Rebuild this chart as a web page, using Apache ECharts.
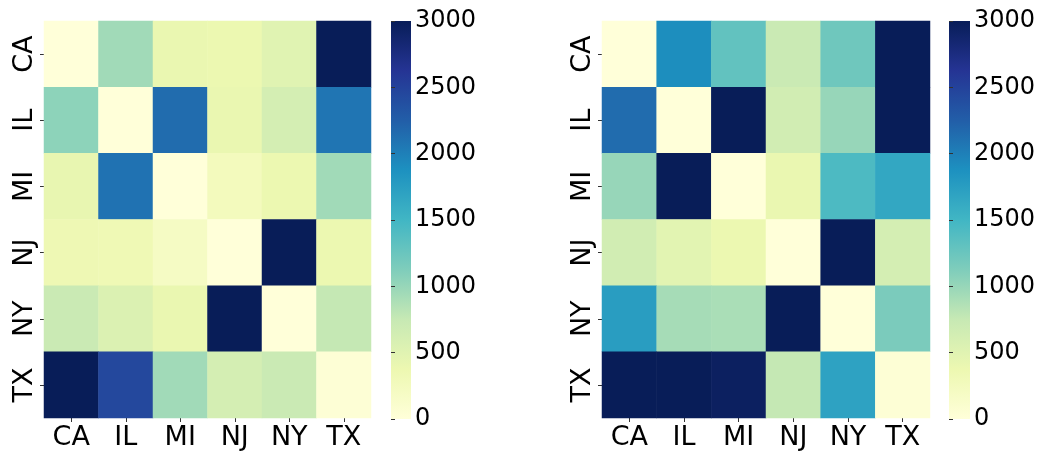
<!DOCTYPE html>
<html>
<head>
<meta charset="utf-8">
<script src="https://cdn.jsdelivr.net/npm/echarts@6/dist/echarts.min.js"></script>
<style>
  html, body { margin: 0; padding: 0; background: #fff; }
  #main { width: 1042px; height: 451px; }
</style>
</head>
<body>
<div id="main"></div>
<script>
// states on both axes
var states = ['CA', 'IL', 'MI', 'NJ', 'NY', 'TX'];
var cbarTicks = [0, 500, 1000, 1500, 2000, 2500, 3000];

// left matrix, rows = y labels (top to bottom), cols = x labels
var leftRows = [
  [0, 950, 400, 380, 500, 3000],
  [1050, 0, 2150, 400, 620, 2080],
  [420, 2100, 0, 260, 380, 950],
  [350, 340, 200, 0, 3000, 380],
  [720, 550, 400, 3000, 0, 760],
  [3000, 2450, 950, 620, 720, 40]
];

// right matrix
var rightRows = [
  [0, 1900, 1300, 720, 1220, 3000],
  [2150, 0, 3000, 650, 1000, 3000],
  [1000, 3000, 0, 400, 1430, 1650],
  [650, 480, 380, 0, 3000, 620],
  [1750, 920, 900, 3000, 0, 1150],
  [3000, 3000, 2950, 760, 1700, 40]
];

// YlGnBu
var ylgnbu = ['#ffffd9', '#edf8b1', '#c7e9b4', '#7fcdbb', '#41b6c4', '#1d91c0', '#225ea8', '#253494', '#081d58'];

function toCells(rows) {
  var out = [];
  for (var r = 0; r < rows.length; r++) {
    for (var c = 0; c < rows[r].length; c++) {
      out.push([c, r, rows[r][c]]);
    }
  }
  return out;
}

var chart = echarts.init(document.getElementById('main'));
var font = 'DejaVu Sans';

var gradStops = [];
for (var i = 0; i < ylgnbu.length; i++) {
  gradStops.push({ offset: 1 - i / (ylgnbu.length - 1), color: ylgnbu[i] });
}

function catX(gi) {
  return {
    type: 'category', gridIndex: gi, data: states,
    axisLine: { show: false },
    axisTick: { show: true, alignWithLabel: true, length: 4, lineStyle: { color: '#333', width: 1 } },
    axisLabel: { fontFamily: font, fontSize: 27, color: '#000', margin: 6 },
    splitLine: { show: false }
  };
}
function catY(gi) {
  return {
    type: 'category', gridIndex: gi, data: states, inverse: true,
    axisLine: { show: false },
    axisTick: { show: true, alignWithLabel: true, length: 4, lineStyle: { color: '#333', width: 1 } },
    axisLabel: { fontFamily: font, fontSize: 27, color: '#000', rotate: 90, margin: 6, align: 'center', verticalAlign: 'bottom' },
    splitLine: { show: false }
  };
}
function cbX(gi) {
  return { type: 'value', gridIndex: gi, show: false, min: 0, max: 1 };
}
function cbY(gi) {
  return {
    type: 'value', gridIndex: gi, position: 'right', min: cbarTicks[0], max: cbarTicks[cbarTicks.length - 1],
    interval: cbarTicks[1] - cbarTicks[0],
    axisLine: { show: false },
    axisTick: { show: true, length: 4, lineStyle: { color: '#333', width: 1 } },
    axisLabel: { fontFamily: font, fontSize: 24, color: '#000', margin: 4, formatter: function (v) { return String(v); } },
    splitLine: { show: false }
  };
}
function cbGrid(left, width) {
  return {
    left: left, top: 21, width: width, height: 398, show: true, borderWidth: 0,
    backgroundColor: new echarts.graphic.LinearGradient(0, 0, 0, 1, gradStops)
  };
}

var option = {
  backgroundColor: '#fff',
  animation: false,
  grid: [
    { left: 44, top: 21, width: 327, height: 398 },
    cbGrid(391, 20),
    { left: 602, top: 21, width: 328, height: 398 },
    cbGrid(949, 21)
  ],
  xAxis: [catX(0), cbX(1), catX(2), cbX(3)],
  yAxis: [catY(0), cbY(1), catY(2), cbY(3)],
  visualMap: [
    { type: 'continuous', show: false, min: 0, max: 3000, seriesIndex: 0, inRange: { color: ylgnbu } },
    { type: 'continuous', show: false, min: 0, max: 3000, seriesIndex: 1, inRange: { color: ylgnbu } }
  ],
  series: [
    { type: 'heatmap', xAxisIndex: 0, yAxisIndex: 0, data: toCells(leftRows), itemStyle: { borderWidth: 0 }, emphasis: { disabled: true } },
    { type: 'heatmap', xAxisIndex: 2, yAxisIndex: 2, data: toCells(rightRows), itemStyle: { borderWidth: 0 }, emphasis: { disabled: true } }
  ]
};

chart.setOption(option);
</script>
</body>
</html>
